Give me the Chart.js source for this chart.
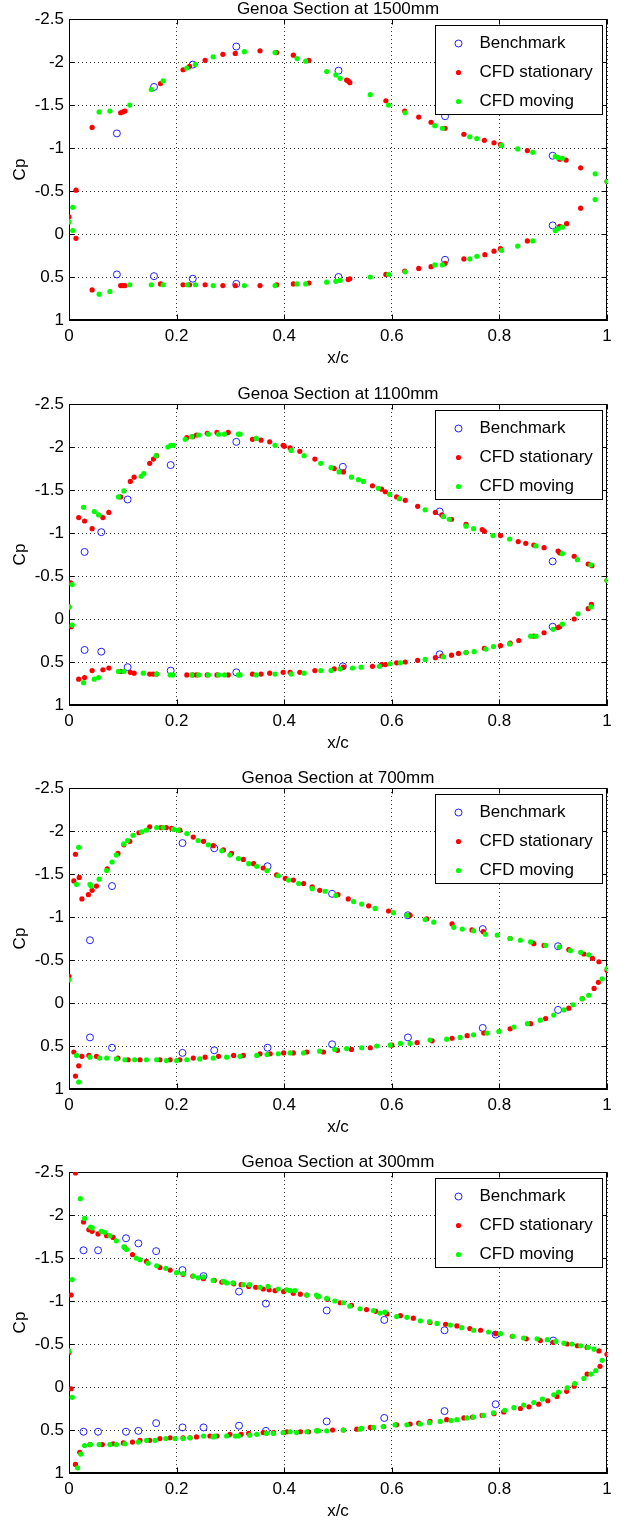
<!DOCTYPE html>
<html>
<head>
<meta charset="utf-8">
<script src="https://cdn.jsdelivr.net/npm/chart.js@4.4.1/dist/chart.umd.min.js"></script>
<style>
  html, body { margin: 0; padding: 0; background: #fff; overflow: hidden; }
  .panel { position: absolute; left: 0; width: 628px; height: 370px; }
</style>
</head>
<body>
<div class="panel" style="top:0px"><canvas id="cp1500" width="628" height="370"></canvas></div>
<div class="panel" style="top:385px"><canvas id="cp1100" width="628" height="370"></canvas></div>
<div class="panel" style="top:769px"><canvas id="cp700" width="628" height="370"></canvas></div>
<div class="panel" style="top:1153px"><canvas id="cp300" width="628" height="370"></canvas></div>
<script>
// Section titles
const sectionTitles = ['Genoa Section at 1500mm', 'Genoa Section at 1100mm', 'Genoa Section at 700mm', 'Genoa Section at 300mm'];
const seriesNames = ['Benchmark', 'CFD stationary', 'CFD moving'];
const xTicks = [0, 0.2, 0.4, 0.6, 0.8, 1];
const cpTicks = [-2.5, -2, -1.5, -1, -0.5, 0, 0.5, 1];

// ---- 1500mm ---- (suction side first, then pressure side)
const xBench1500 = [0.089, 0.158, 0.230, 0.311, 0.501, 0.699, 0.899,
  0.089, 0.158, 0.230, 0.311, 0.501, 0.699, 0.899];
const cpBench1500 = [-1.17, -1.71, -1.97, -2.18, -1.90, -1.37, -0.91,
  0.47, 0.49, 0.52, 0.58, 0.50, 0.30, -0.10];
const xStat1500 = [0, 0.013, 0.043, 0.096, 0.100, 0.104, 0.170, 0.212, 0.224, 0.253,
  0.286, 0.309, 0.355, 0.386, 0.417, 0.446, 0.516, 0.519, 0.522, 0.589,
  0.624, 0.650, 0.673, 0.699, 0.734, 0.772, 0.790, 0.802, 0.852, 0.912,
  0.924, 0.951, 1.0,
  0.013, 0.043, 0.096, 0.100, 0.104, 0.170, 0.212, 0.224, 0.253, 0.286,
  0.309, 0.355, 0.386, 0.417, 0.446, 0.519, 0.522, 0.589, 0.624, 0.650,
  0.673, 0.699, 0.734, 0.773, 0.790, 0.802, 0.852, 0.912, 0.925, 0.951];
const cpStat1500 = [-0.20, -0.51, -1.24, -1.41, -1.42, -1.43, -1.75, -1.91, -1.95, -2.02,
  -2.09, -2.10, -2.13, -2.11, -2.08, -2.02, -1.79, -1.78, -1.76, -1.55,
  -1.43, -1.36, -1.30, -1.23, -1.16, -1.09, -1.06, -1.04, -0.97, -0.87,
  -0.86, -0.77, -0.61,
  0.05, 0.65, 0.60, 0.60, 0.60, 0.58, 0.59, 0.59, 0.59, 0.60,
  0.60, 0.60, 0.59, 0.58, 0.57, 0.53, 0.52, 0.47, 0.43, 0.40,
  0.38, 0.34, 0.29, 0.24, 0.20, 0.17, 0.08, -0.09, -0.12, -0.30];
const xMove1500 = [0, 0.007, 0.056, 0.076, 0.113, 0.153, 0.175, 0.219, 0.235, 0.268,
  0.326, 0.383, 0.424, 0.440, 0.479, 0.496, 0.504, 0.560, 0.594, 0.625,
  0.680, 0.694, 0.745, 0.758, 0.804, 0.834, 0.862, 0.904, 0.909, 0.917,
  0.978, 1.0,
  0.007, 0.056, 0.076, 0.113, 0.153, 0.175, 0.220, 0.235, 0.268, 0.326,
  0.383, 0.424, 0.440, 0.479, 0.496, 0.504, 0.560, 0.594, 0.625, 0.680,
  0.694, 0.745, 0.758, 0.804, 0.834, 0.862, 0.904, 0.909, 0.917, 0.978];
const cpMove1500 = [-0.14, -0.31, -1.42, -1.43, -1.50, -1.68, -1.78, -1.93, -1.97, -2.06,
  -2.12, -2.11, -2.04, -2.01, -1.89, -1.85, -1.81, -1.62, -1.50, -1.41,
  -1.26, -1.23, -1.13, -1.11, -1.03, -0.99, -0.95, -0.90, -0.89, -0.88,
  -0.70, -0.61,
  -0.04, 0.70, 0.67, 0.59, 0.59, 0.59, 0.59, 0.59, 0.60, 0.60,
  0.60, 0.58, 0.58, 0.56, 0.55, 0.54, 0.50, 0.47, 0.44, 0.36,
  0.36, 0.29, 0.26, 0.19, 0.14, 0.08, -0.04, -0.06, -0.08, -0.40];

// ---- 1100mm ----
const xBench1100 = [0.029, 0.060, 0.109, 0.189, 0.311, 0.509, 0.689, 0.899,
  0.029, 0.060, 0.109, 0.189, 0.311, 0.509, 0.689, 0.899];
const cpBench1100 = [-0.78, -1.01, -1.39, -1.79, -2.06, -1.77, -1.25, -0.67,
  0.36, 0.38, 0.56, 0.60, 0.62, 0.55, 0.41, 0.09];
const xStat1100 = [0, 0.003, 0.018, 0.029, 0.043, 0.063, 0.074, 0.096, 0.114, 0.121,
  0.150, 0.157, 0.163, 0.219, 0.230, 0.237, 0.257, 0.275, 0.296, 0.341,
  0.357, 0.373, 0.398, 0.400, 0.411, 0.429, 0.457, 0.493, 0.510, 0.564,
  0.581, 0.588, 0.609, 0.625, 0.648, 0.681, 0.693, 0.711, 0.738, 0.768,
  0.772, 0.802, 0.835, 0.849, 0.864, 0.883, 0.909, 0.912, 0.939, 0.965,
  0.972, 1.0,
  0.004, 0.018, 0.029, 0.043, 0.063, 0.074, 0.096, 0.114, 0.121, 0.150,
  0.157, 0.163, 0.219, 0.230, 0.237, 0.257, 0.275, 0.296, 0.341, 0.357,
  0.373, 0.398, 0.411, 0.429, 0.457, 0.493, 0.510, 0.564, 0.581, 0.588,
  0.609, 0.625, 0.648, 0.681, 0.693, 0.711, 0.724, 0.738, 0.772, 0.802,
  0.820, 0.836, 0.864, 0.883, 0.909, 0.912, 0.939, 0.965, 0.971];
const cpStat1100 = [-0.14, -0.42, -1.18, -1.14, -1.05, -1.18, -1.24, -1.42, -1.60, -1.65,
  -1.81, -1.86, -1.90, -2.11, -2.12, -2.14, -2.16, -2.17, -2.17, -2.09,
  -2.08, -2.06, -2.02, -2.01, -1.99, -1.95, -1.86, -1.75, -1.71, -1.55,
  -1.51, -1.48, -1.42, -1.38, -1.31, -1.24, -1.21, -1.16, -1.10, -1.04,
  -1.02, -0.97, -0.90, -0.88, -0.86, -0.83, -0.79, -0.77, -0.73, -0.64,
  -0.62, -0.45,
  0.09, 0.70, 0.68, 0.60, 0.59, 0.57, 0.61, 0.62, 0.63, 0.64,
  0.64, 0.64, 0.65, 0.65, 0.65, 0.65, 0.65, 0.65, 0.64, 0.64,
  0.63, 0.62, 0.62, 0.62, 0.60, 0.58, 0.56, 0.55, 0.53, 0.53,
  0.51, 0.50, 0.48, 0.45, 0.43, 0.42, 0.40, 0.39, 0.34, 0.31,
  0.28, 0.25, 0.20, 0.16, 0.10, 0.09, 0.00, -0.12, -0.17];
const xMove1100 = [0, 0.006, 0.027, 0.047, 0.055, 0.092, 0.102, 0.134, 0.139, 0.162,
  0.184, 0.189, 0.194, 0.216, 0.228, 0.241, 0.259, 0.278, 0.289, 0.315,
  0.318, 0.348, 0.383, 0.413, 0.437, 0.468, 0.487, 0.502, 0.525, 0.538,
  0.547, 0.575, 0.596, 0.614, 0.662, 0.696, 0.707, 0.738, 0.752, 0.788,
  0.819, 0.868, 0.917, 0.945, 0.970, 1.0,
  0.006, 0.027, 0.047, 0.055, 0.092, 0.102, 0.138, 0.163, 0.188, 0.193,
  0.228, 0.241, 0.259, 0.278, 0.289, 0.315, 0.318, 0.348, 0.383, 0.413,
  0.437, 0.468, 0.487, 0.504, 0.527, 0.543, 0.577, 0.597, 0.616, 0.662,
  0.696, 0.738, 0.753, 0.775, 0.789, 0.819, 0.858, 0.868, 0.900, 0.917,
  0.946, 0.970];
const cpMove1100 = [-0.14, -0.40, -1.30, -1.25, -1.21, -1.42, -1.49, -1.66, -1.69, -1.90,
  -2.00, -2.02, -2.02, -2.09, -2.12, -2.14, -2.15, -2.15, -2.15, -2.15,
  -2.15, -2.10, -2.02, -1.96, -1.90, -1.81, -1.76, -1.71, -1.65, -1.62,
  -1.60, -1.52, -1.45, -1.40, -1.27, -1.19, -1.16, -1.08, -1.05, -0.97,
  -0.93, -0.85, -0.76, -0.69, -0.63, -0.45,
  0.07, 0.74, 0.70, 0.68, 0.61, 0.61, 0.63, 0.64, 0.65, 0.65,
  0.65, 0.65, 0.65, 0.65, 0.65, 0.65, 0.65, 0.65, 0.64, 0.64,
  0.63, 0.60, 0.60, 0.58, 0.57, 0.56, 0.55, 0.52, 0.51, 0.47,
  0.44, 0.39, 0.38, 0.35, 0.32, 0.29, 0.20, 0.20, 0.12, 0.06,
  -0.06, -0.14];

// ---- 700mm ----
const xBench700 = [0.039, 0.080, 0.211, 0.270, 0.369, 0.489, 0.630, 0.769, 0.909,
  0.039, 0.080, 0.211, 0.270, 0.369, 0.489, 0.630, 0.769, 0.909];
const cpBench700 = [-0.73, -1.36, -1.86, -1.80, -1.59, -1.27, -1.02, -0.86, -0.66,
  0.40, 0.52, 0.58, 0.55, 0.52, 0.48, 0.40, 0.29, 0.08];
const xStat700 = [0, 0.009, 0.012, 0.019, 0.024, 0.036, 0.043, 0.051, 0.071, 0.091,
  0.102, 0.113, 0.130, 0.150, 0.171, 0.181, 0.191, 0.206, 0.231, 0.250,
  0.268, 0.287, 0.302, 0.324, 0.343, 0.361, 0.386, 0.402, 0.417, 0.436,
  0.452, 0.466, 0.500, 0.519, 0.557, 0.594, 0.634, 0.665, 0.712, 0.749,
  0.770, 0.820, 0.864, 0.883, 0.929, 0.957, 0.973, 0.985, 1.0,
  0.009, 0.012, 0.018, 0.024, 0.037, 0.051, 0.091, 0.110, 0.132, 0.169,
  0.188, 0.206, 0.231, 0.253, 0.278, 0.306, 0.324, 0.355, 0.374, 0.399,
  0.417, 0.442, 0.473, 0.499, 0.525, 0.560, 0.600, 0.647, 0.675, 0.712,
  0.740, 0.771, 0.820, 0.858, 0.886, 0.929, 0.954, 0.976, 0.984];
const cpStat700 = [-0.31, -1.42, -1.73, -1.46, -1.21, -1.26, -1.31, -1.36, -1.56, -1.74,
  -1.84, -1.88, -1.98, -2.05, -2.04, -2.04, -2.03, -2.01, -1.93, -1.88,
  -1.83, -1.78, -1.74, -1.67, -1.62, -1.57, -1.49, -1.45, -1.43, -1.39,
  -1.35, -1.31, -1.26, -1.21, -1.13, -1.07, -1.02, -0.98, -0.92, -0.85,
  -0.83, -0.75, -0.69, -0.67, -0.62, -0.57, -0.52, -0.48, -0.38,
  0.57, 0.85, 0.73, 0.62, 0.61, 0.62, 0.64, 0.66, 0.66, 0.66,
  0.66, 0.66, 0.64, 0.63, 0.62, 0.61, 0.61, 0.59, 0.59, 0.58,
  0.58, 0.57, 0.57, 0.55, 0.54, 0.52, 0.49, 0.46, 0.44, 0.41,
  0.38, 0.35, 0.30, 0.24, 0.18, 0.06, -0.05, -0.17, -0.24];
const xMove700 = [0, 0.014, 0.018, 0.039, 0.041, 0.056, 0.070, 0.080, 0.088, 0.102,
  0.109, 0.119, 0.135, 0.144, 0.163, 0.175, 0.194, 0.203, 0.219, 0.240,
  0.259, 0.284, 0.299, 0.315, 0.334, 0.349, 0.368, 0.389, 0.408, 0.427,
  0.452, 0.476, 0.496, 0.529, 0.544, 0.569, 0.603, 0.628, 0.662, 0.678,
  0.715, 0.731, 0.752, 0.774, 0.796, 0.820, 0.839, 0.858, 0.886, 0.911,
  0.932, 0.951, 0.966, 1.0,
  0.014, 0.018, 0.039, 0.057, 0.070, 0.088, 0.104, 0.122, 0.144, 0.163,
  0.181, 0.200, 0.219, 0.243, 0.268, 0.293, 0.318, 0.349, 0.368, 0.389,
  0.411, 0.436, 0.466, 0.494, 0.516, 0.544, 0.572, 0.597, 0.616, 0.634,
  0.671, 0.702, 0.727, 0.752, 0.777, 0.799, 0.827, 0.852, 0.876, 0.901,
  0.920, 0.937, 0.954, 0.966, 0.991];
const cpMove700 = [-0.27, -1.38, -1.81, -1.38, -1.36, -1.44, -1.54, -1.64, -1.72, -1.85,
  -1.89, -1.95, -1.99, -2.01, -2.04, -2.04, -2.02, -2.01, -1.97, -1.89,
  -1.84, -1.77, -1.72, -1.68, -1.62, -1.59, -1.54, -1.48, -1.43, -1.39,
  -1.33, -1.30, -1.25, -1.18, -1.15, -1.10, -1.05, -1.02, -0.97, -0.94,
  -0.88, -0.86, -0.84, -0.80, -0.79, -0.75, -0.73, -0.71, -0.67, -0.65,
  -0.61, -0.59, -0.56, -0.40,
  0.61, 0.92, 0.63, 0.64, 0.64, 0.65, 0.66, 0.66, 0.66, 0.66,
  0.67, 0.67, 0.66, 0.65, 0.64, 0.63, 0.62, 0.61, 0.60, 0.59,
  0.58, 0.58, 0.56, 0.54, 0.53, 0.52, 0.50, 0.49, 0.47, 0.47,
  0.43, 0.42, 0.40, 0.37, 0.35, 0.33, 0.28, 0.24, 0.20, 0.14,
  0.08, 0.02, -0.05, -0.09, -0.28];

// ---- 300mm ----
const xBench300 = [0.027, 0.054, 0.106, 0.129, 0.162, 0.211, 0.250, 0.316, 0.366, 0.479,
  0.586, 0.698, 0.793, 0.900,
  0.027, 0.054, 0.106, 0.129, 0.162, 0.211, 0.250, 0.316, 0.366, 0.479,
  0.586, 0.698, 0.793];
const cpBench300 = [-1.59, -1.59, -1.73, -1.67, -1.58, -1.36, -1.29, -1.11, -0.97, -0.89,
  -0.78, -0.66, -0.61, -0.54,
  0.52, 0.52, 0.52, 0.51, 0.42, 0.47, 0.47, 0.45, 0.51, 0.40,
  0.36, 0.28, 0.20];
const xStat300 = [0, 0.004, 0.012, 0.027, 0.037, 0.043, 0.054, 0.070, 0.082, 0.104,
  0.118, 0.144, 0.169, 0.188, 0.212, 0.250, 0.284, 0.306, 0.334, 0.361,
  0.383, 0.399, 0.417, 0.442, 0.463, 0.504, 0.553, 0.591, 0.616, 0.671,
  0.721, 0.765, 0.793, 0.824, 0.876, 0.926, 0.963, 0.985, 1.0,
  0.230, 0.270, 0.320, 0.347, 0.372, 0.430, 0.480, 0.525, 0.570, 0.640,
  0.700, 0.745, 0.850, 0.900, 0.945,
  0.004, 0.012, 0.020, 0.039, 0.062, 0.082, 0.101, 0.118, 0.132, 0.150,
  0.169, 0.188, 0.212, 0.237, 0.262, 0.299, 0.334, 0.361, 0.380, 0.405,
  0.430, 0.461, 0.510, 0.560, 0.609, 0.634, 0.671, 0.702, 0.734, 0.768,
  0.808, 0.839, 0.873, 0.907, 0.939, 0.963, 0.987,
  0.225, 0.275, 0.320, 0.400, 0.445, 0.490, 0.535, 0.585, 0.650, 0.750,
  0.790, 0.855, 0.890, 0.925];
const cpStat300 = [-0.40, -1.07, -2.49, -1.92, -1.83, -1.81, -1.78, -1.76, -1.74, -1.62,
  -1.54, -1.46, -1.39, -1.36, -1.31, -1.26, -1.22, -1.20, -1.17, -1.14,
  -1.12, -1.11, -1.09, -1.07, -1.05, -0.98, -0.90, -0.85, -0.83, -0.75,
  -0.71, -0.66, -0.62, -0.59, -0.54, -0.50, -0.46, -0.42, -0.38,
  -1.29, -1.24, -1.19, -1.16, -1.13, -1.08, -1.02, -0.95, -0.88, -0.80,
  -0.73, -0.68, -0.56, -0.52, -0.48,
  0.02, 0.90, 0.76, 0.67, 0.67, 0.66, 0.65, 0.64, 0.62, 0.62,
  0.60, 0.59, 0.59, 0.58, 0.57, 0.55, 0.54, 0.53, 0.53, 0.52,
  0.52, 0.51, 0.50, 0.47, 0.44, 0.43, 0.40, 0.38, 0.36, 0.33,
  0.29, 0.25, 0.20, 0.11, -0.01, -0.15, -0.24,
  0.59, 0.57, 0.55, 0.53, 0.52, 0.50, 0.49, 0.46, 0.42, 0.35,
  0.31, 0.23, 0.16, 0.05];
const xMove300 = [0, 0.006, 0.021, 0.029, 0.040, 0.043, 0.060, 0.066, 0.076, 0.088,
  0.102, 0.107, 0.125, 0.132, 0.147, 0.163, 0.180, 0.200, 0.231, 0.240,
  0.268, 0.293, 0.324, 0.355, 0.389, 0.411, 0.442, 0.464, 0.479, 0.522,
  0.541, 0.578, 0.609, 0.653, 0.684, 0.709, 0.752, 0.802, 0.845, 0.889,
  0.920, 0.951, 0.976,
  0.212, 0.250, 0.287, 0.305, 0.336, 0.370, 0.405, 0.420, 0.460, 0.494,
  0.510, 0.566, 0.587, 0.628, 0.670, 0.730, 0.780, 0.825, 0.870, 0.905,
  0.935, 0.965,
  0.006, 0.016, 0.022, 0.029, 0.040, 0.056, 0.076, 0.088, 0.104, 0.129,
  0.144, 0.160, 0.180, 0.197, 0.225, 0.250, 0.271, 0.293, 0.315, 0.349,
  0.380, 0.411, 0.442, 0.464, 0.479, 0.510, 0.544, 0.584, 0.628, 0.653,
  0.690, 0.721, 0.752, 0.789, 0.827, 0.864, 0.901, 0.926, 0.957, 0.979,
  0.991,
  0.212, 0.268, 0.309, 0.336, 0.367, 0.398, 0.423, 0.460, 0.541, 0.566,
  0.606, 0.670, 0.710, 0.740, 0.770, 0.810, 0.845, 0.880, 0.910, 0.940,
  0.970];
const cpMove300 = [-0.42, -1.25, -2.19, -1.96, -1.86, -1.85, -1.81, -1.80, -1.76, -1.70,
  -1.63, -1.60, -1.50, -1.48, -1.44, -1.41, -1.38, -1.33, -1.29, -1.27,
  -1.24, -1.21, -1.19, -1.16, -1.14, -1.12, -1.07, -1.05, -1.03, -0.94,
  -0.91, -0.86, -0.82, -0.77, -0.74, -0.72, -0.66, -0.62, -0.57, -0.55,
  -0.51, -0.48, -0.44,
  -1.32, -1.28, -1.23, -1.21, -1.19, -1.17, -1.13, -1.12, -1.07, -1.00,
  -0.98, -0.89, -0.87, -0.81, -0.76, -0.69, -0.64, -0.59, -0.56, -0.53,
  -0.50, -0.46,
  0.12, 0.94, 0.78, 0.68, 0.67, 0.67, 0.67, 0.67, 0.66, 0.64,
  0.62, 0.62, 0.60, 0.60, 0.59, 0.57, 0.57, 0.57, 0.57, 0.55,
  0.54, 0.52, 0.52, 0.51, 0.51, 0.50, 0.48, 0.46, 0.44, 0.43,
  0.40, 0.38, 0.35, 0.30, 0.24, 0.18, 0.09, 0.01, -0.10, -0.19,
  -0.31,
  0.60, 0.58, 0.57, 0.56, 0.54, 0.53, 0.53, 0.51, 0.49, 0.47,
  0.44, 0.415, 0.39, 0.36, 0.33, 0.27, 0.21, 0.14, 0.06, -0.04,
  -0.15];

Chart.defaults.font.family = '"Liberation Sans", Arial, Helvetica, sans-serif';
Chart.defaults.color = '#000';

const FONT = { size: 17, weight: 'normal', lineHeight: 1.2 };

function toPoints(xs, ys) {
  return xs.map((x, i) => ({ x: x, y: ys[i] }));
}

// MATLAB style box: closed frame plus inward tick marks on all four sides
const matlabBox = {
  id: 'matlabBox',
  beforeDatasetsDraw(chart) {
    const { ctx, chartArea: { left, right, top, bottom }, scales: { x, y } } = chart;
    const l = Math.round(left) + 0.5, r = Math.round(right) - 0.5;
    const t = Math.round(top) + 0.5, b = Math.round(bottom) - 0.5;
    ctx.save();
    ctx.strokeStyle = '#000';
    ctx.lineWidth = 1;
    ctx.beginPath();
    xTicks.forEach(v => {
      const px = Math.round(x.getPixelForValue(v)) + 0.5;
      ctx.moveTo(px, b); ctx.lineTo(px, b - 5);
      ctx.moveTo(px, t); ctx.lineTo(px, t + 5);
    });
    cpTicks.forEach(v => {
      const py = Math.round(y.getPixelForValue(v)) + 0.5;
      ctx.moveTo(l, py); ctx.lineTo(l + 5, py);
      ctx.moveTo(r, py); ctx.lineTo(r - 5, py);
    });
    ctx.stroke();
    ctx.strokeRect(l, t, r - l, b - t);
    ctx.restore();
  }
};

// legend box in the upper right corner of the axes
const innerLegend = {
  id: 'innerLegend',
  afterDraw(chart) {
    const { ctx, chartArea } = chart;
    const w = 167, h = 89;
    const bx = Math.round(chartArea.right - 172) + 0.5;
    const by = Math.round(chartArea.top + 6) + 0.5;
    ctx.save();
    ctx.fillStyle = '#fff';
    ctx.fillRect(bx, by, w, h);
    ctx.strokeStyle = '#000';
    ctx.lineWidth = 1;
    ctx.strokeRect(bx, by, w, h);
    ctx.font = '17px "Liberation Sans", Arial, sans-serif';
    ctx.textBaseline = 'middle';
    ctx.textAlign = 'left';
    chart.data.datasets.forEach((ds, i) => {
      const ry = by + 18 + i * 29;
      const mx = bx + 23;
      ctx.beginPath();
      ctx.arc(mx, ry, ds.pointRadius, 0, Math.PI * 2);
      if (i === 0) {
        ctx.strokeStyle = ds.borderColor;
        ctx.stroke();
      } else {
        ctx.fillStyle = ds.backgroundColor;
        ctx.fill();
      }
      ctx.fillStyle = '#000';
      ctx.fillText(ds.label, bx + 44, ry);
    });
    ctx.restore();
  }
};

function makeChart(id, title, bx, by, sx, sy, mx, my) {
  const ctx = document.getElementById(id).getContext('2d');
  return new Chart(ctx, {
    type: 'scatter',
    data: {
      datasets: [
        { label: seriesNames[0], data: toPoints(bx, by), pointStyle: 'circle', pointRadius: 3.5,
          borderColor: '#2020ff', backgroundColor: 'rgba(0,0,0,0)', pointBorderWidth: 1, order: 3 },
        { label: seriesNames[1], data: toPoints(sx, sy), pointStyle: 'circle', pointRadius: 2.6,
          borderColor: '#ff0000', backgroundColor: '#ff0000', pointBorderWidth: 0, order: 2 },
        { label: seriesNames[2], data: toPoints(mx, my), pointStyle: 'circle', pointRadius: 2.6,
          borderColor: '#00ff00', backgroundColor: '#00ff00', pointBorderWidth: 0, order: 1 }
      ]
    },
    options: {
      responsive: false,
      animation: false,
      events: [],
      layout: { padding: { top: 0, right: 21, bottom: 0, left: 0 } },
      plugins: {
        legend: { display: false },
        tooltip: { enabled: false },
        title: {
          display: true, text: title, fullSize: false, color: '#000', padding: 0,
          font: { size: 17, weight: 'normal', lineHeight: 1.12 }
        }
      },
      scales: {
        x: {
          type: 'linear', min: 0, max: 1,
          afterFit: s => { s.height = 50; },
          afterBuildTicks: s => { s.ticks = xTicks.map(v => ({ value: v })); },
          ticks: { font: FONT, color: '#000', padding: 6, callback: v => String(Math.round(v * 10) / 10) },
          grid: { color: 'rgba(0,0,0,0.8)', drawTicks: false },
          border: { display: true, color: '#000', dash: [1, 3] },
          title: { display: true, text: 'x/c', font: FONT, color: '#000', padding: { top: 0, bottom: 1 } }
        },
        y: {
          type: 'linear', min: -2.5, max: 1, reverse: true,
          afterFit: s => { s.width = 69; },
          afterBuildTicks: s => { s.ticks = cpTicks.map(v => ({ value: v })); },
          ticks: { font: FONT, color: '#000', padding: 5, callback: v => String(v) },
          grid: { color: 'rgba(0,0,0,0.8)', drawTicks: false },
          border: { display: true, color: '#000', dash: [1, 3] },
          title: { display: true, text: 'Cp', font: FONT, color: '#000', padding: { top: 10, bottom: 0 } }
        }
      }
    },
    plugins: [matlabBox, innerLegend]
  });
}

makeChart('cp1500', sectionTitles[0], xBench1500, cpBench1500, xStat1500, cpStat1500, xMove1500, cpMove1500);
makeChart('cp1100', sectionTitles[1], xBench1100, cpBench1100, xStat1100, cpStat1100, xMove1100, cpMove1100);
makeChart('cp700', sectionTitles[2], xBench700, cpBench700, xStat700, cpStat700, xMove700, cpMove700);
makeChart('cp300', sectionTitles[3], xBench300, cpBench300, xStat300, cpStat300, xMove300, cpMove300);
</script>
</body>
</html>
